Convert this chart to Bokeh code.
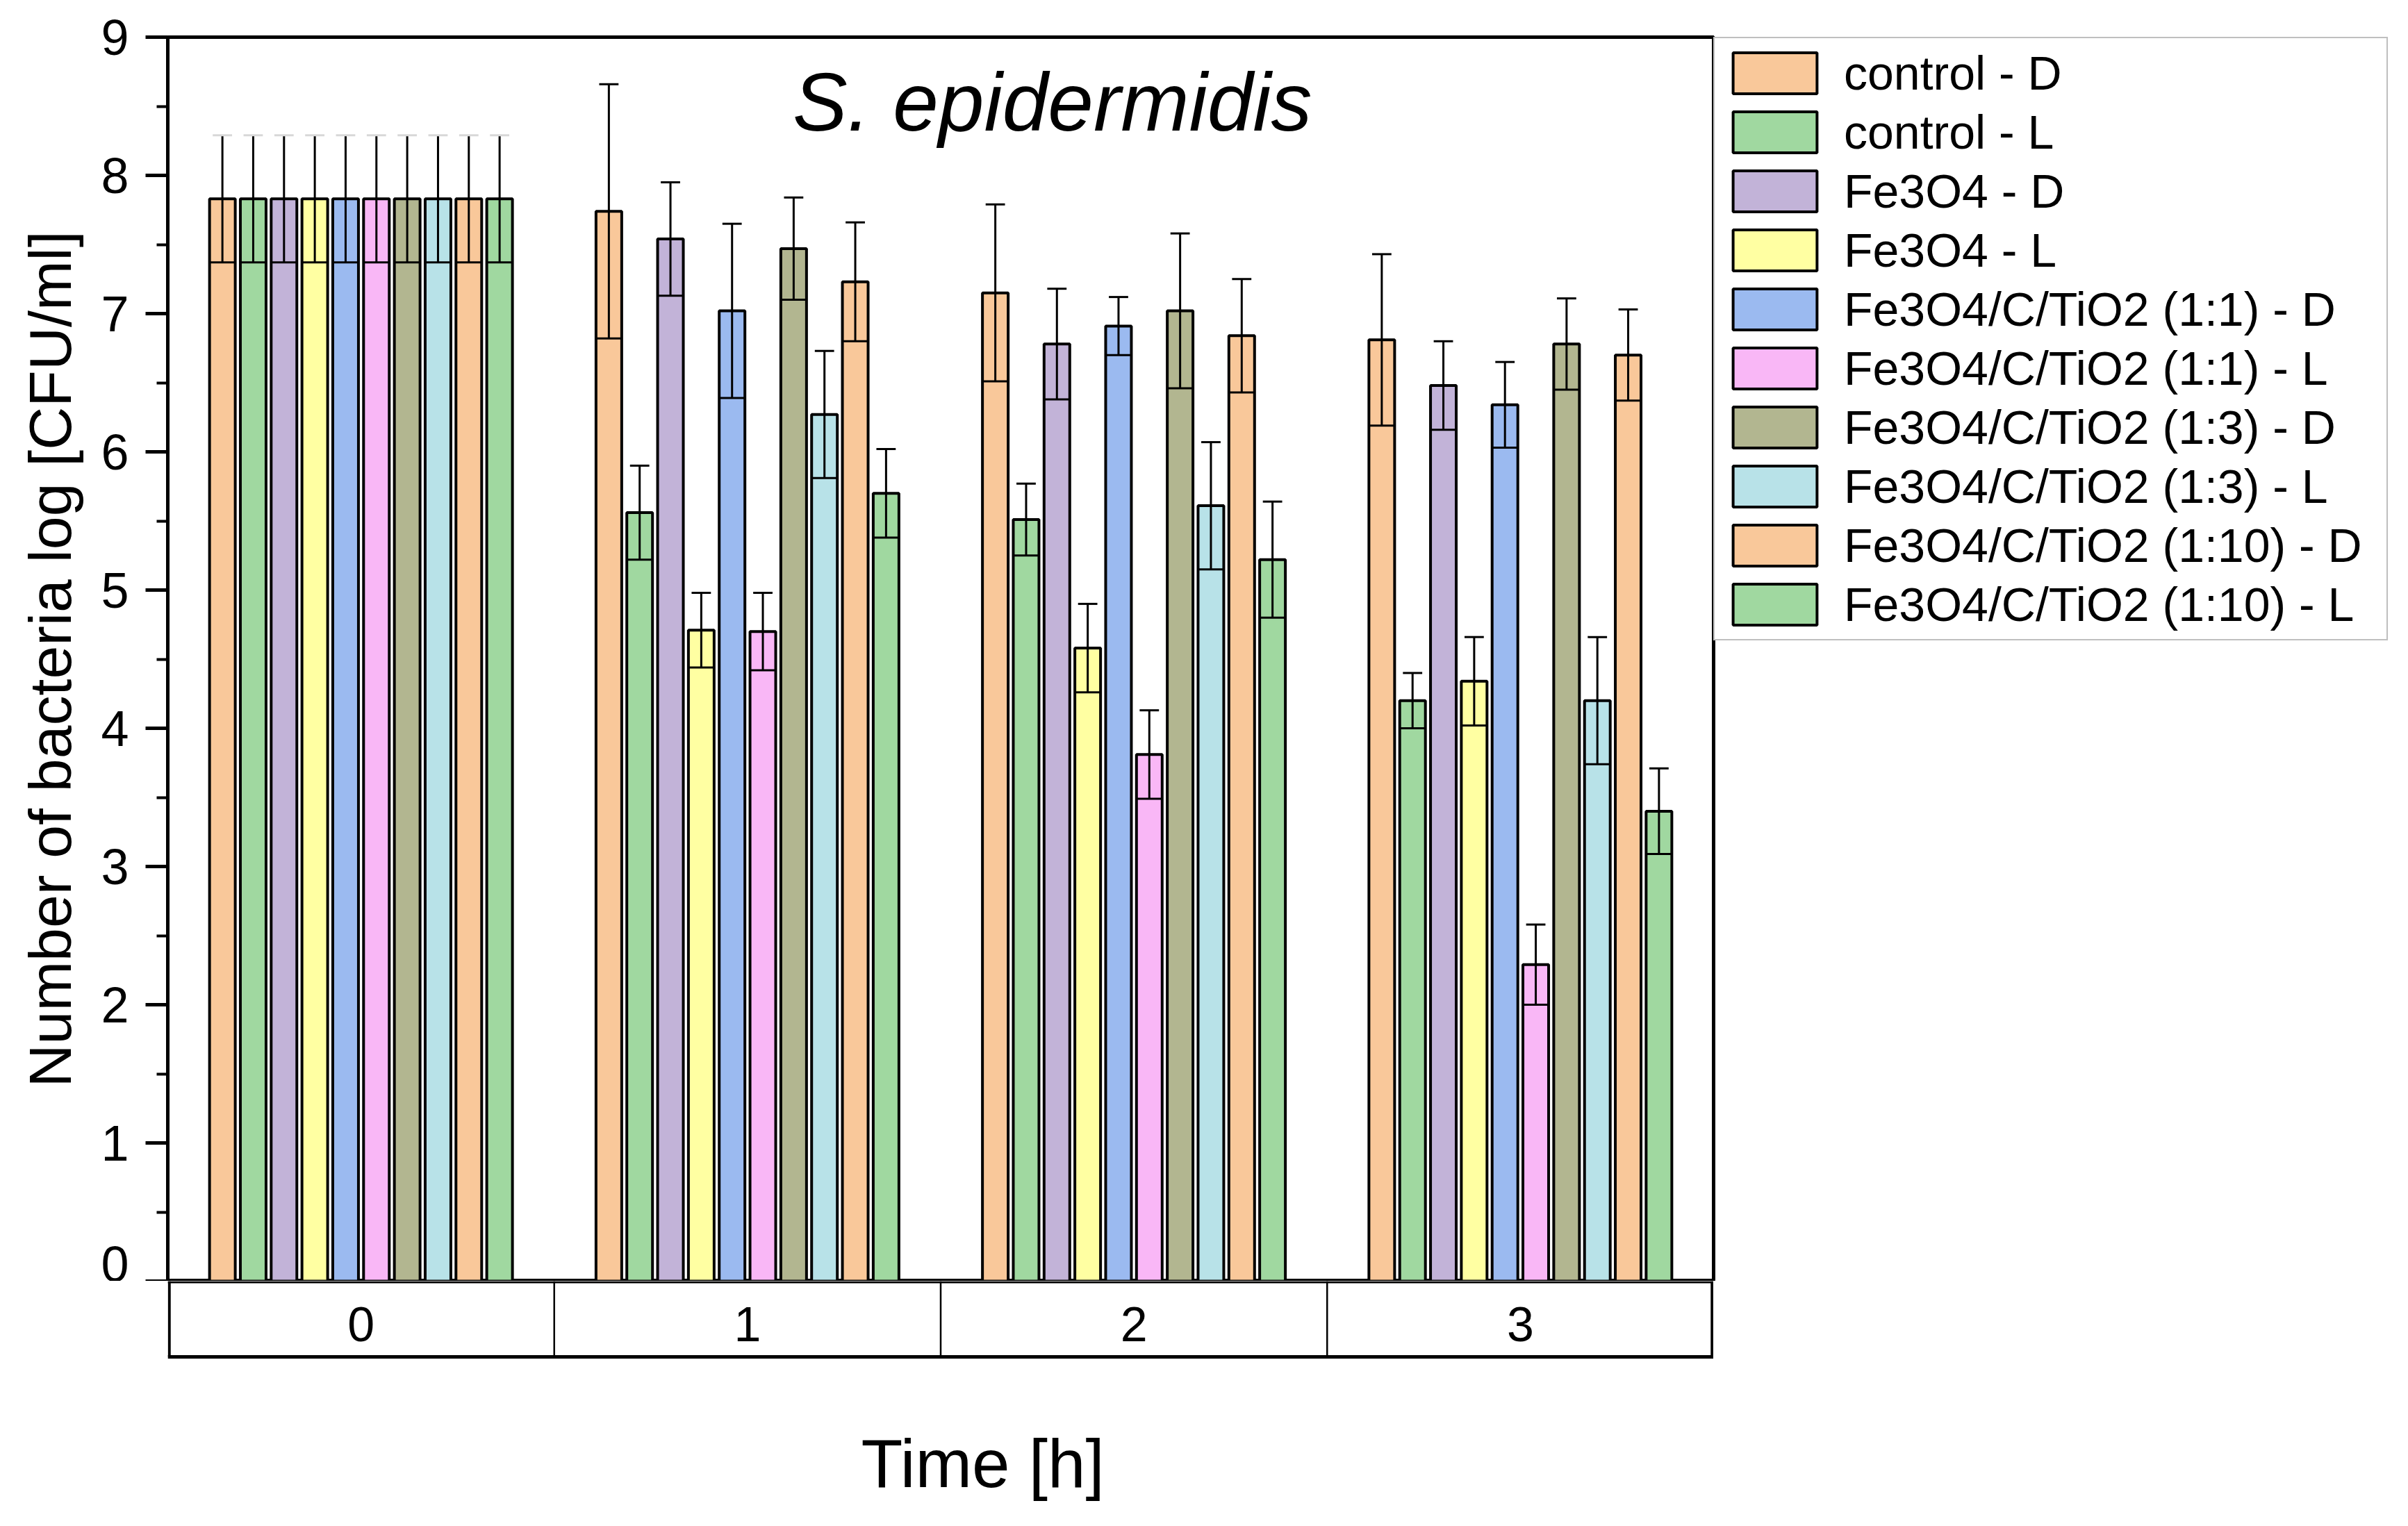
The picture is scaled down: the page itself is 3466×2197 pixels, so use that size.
from bokeh.plotting import figure
from bokeh.models import Range1d, FixedTicker, Legend, LegendItem, ColumnDataSource
from bokeh.layouts import column
from bokeh.core.properties import value
from bokeh.embed import file_html
from bokeh.resources import INLINE

FONT = "Liberation Sans"

time_labels = ["0", "1", "2", "3"]
series_names = [
    "control - D", "control - L", "Fe3O4 - D", "Fe3O4 - L",
    "Fe3O4/C/TiO2 (1:1) - D", "Fe3O4/C/TiO2 (1:1) - L",
    "Fe3O4/C/TiO2 (1:3) - D", "Fe3O4/C/TiO2 (1:3) - L",
    "Fe3O4/C/TiO2 (1:10) - D", "Fe3O4/C/TiO2 (1:10) - L",
]
series_colors = [
    "#F9C89A", "#A0D8A0", "#C2B3D8", "#FFFFA2", "#9BBAF0",
    "#F9B7F6", "#B2B690", "#B8E2E8", "#F9C89A", "#A0D8A0",
]
# log CFU/ml at t = 0, 1, 2, 3 h
control_D = [7.83, 7.74, 7.15, 6.81]
control_L = [7.83, 5.56, 5.51, 4.20]
fe3o4_D = [7.83, 7.54, 6.78, 6.48]
fe3o4_L = [7.83, 4.71, 4.58, 4.34]
fct11_D = [7.83, 7.02, 6.91, 6.34]
fct11_L = [7.83, 4.70, 3.81, 2.29]
fct13_D = [7.83, 7.47, 7.02, 6.78]
fct13_L = [7.83, 6.27, 5.61, 4.20]
fct110_D = [7.83, 7.23, 6.84, 6.70]
fct110_L = [7.83, 5.70, 5.22, 3.40]
# error (SD)
err_control_D = [0.46, 0.92, 0.64, 0.62]
err_control_L = [0.46, 0.34, 0.26, 0.20]
err_fe3o4_D = [0.46, 0.41, 0.40, 0.32]
err_fe3o4_L = [0.46, 0.27, 0.32, 0.32]
err_fct11_D = [0.46, 0.63, 0.21, 0.31]
err_fct11_L = [0.46, 0.28, 0.32, 0.29]
err_fct13_D = [0.46, 0.37, 0.56, 0.33]
err_fct13_L = [0.46, 0.46, 0.46, 0.46]
err_fct110_D = [0.46, 0.43, 0.41, 0.33]
err_fct110_L = [0.46, 0.32, 0.42, 0.31]

means = [control_D, control_L, fe3o4_D, fe3o4_L, fct11_D, fct11_L,
         fct13_D, fct13_L, fct110_D, fct110_L]
errs = [err_control_D, err_control_L, err_fe3o4_D, err_fe3o4_L, err_fct11_D,
        err_fct11_L, err_fct13_D, err_fct13_L, err_fct110_D, err_fct110_L]

PITCH = 0.0797
BAR_W = 0.0665
CAP_W = 0.05

p = figure(frame_width=2225, frame_height=1791, x_range=Range1d(-0.5, 3.5),
           y_range=Range1d(0, 9), x_axis_type=None, output_backend="svg",
           toolbar_location=None, min_border_left=241, min_border_top=53,
           min_border_bottom=0, min_border_right=0)
p.grid.visible = False
p.outline_line_color = "black"
p.outline_line_width = 5

ax = p.yaxis[0]
ax.ticker = FixedTicker(ticks=list(range(10)), minor_ticks=[i + 0.5 for i in range(9)])
ax.axis_line_width = 4
ax.major_tick_out = 32
ax.major_tick_in = 0
ax.major_tick_line_width = 5
ax.minor_tick_out = 16
ax.minor_tick_in = 0
ax.minor_tick_line_width = 4
ax.major_label_standoff = 24
ax.major_label_text_font = FONT
ax.major_label_text_font_size = "72px"
ax.major_label_text_color = "black"
ax.axis_label = "Number of bacteria log [CFU/ml]"
ax.axis_label_text_font = FONT
ax.axis_label_text_font_size = "86px"
ax.axis_label_text_font_style = "normal"
ax.axis_label_text_color = "black"
ax.axis_label_standoff = 22

items = []
for j, (name, col, m, e) in enumerate(zip(series_names, series_colors, means, errs)):
    xs = [t + (j - 4.5) * PITCH for t in range(len(time_labels))]
    src = ColumnDataSource(dict(x=xs, top=m))
    r = p.vbar(x="x", top="top", width=BAR_W, bottom=0, source=src,
               fill_color=col, line_color="black", line_width=4)
    items.append(LegendItem(label=name, renderers=[r]))
    lo = [a - b for a, b in zip(m, e)]
    hi = [a + b for a, b in zip(m, e)]
    capc = ["#d8d8d8" if t == 0 else "black" for t in range(len(time_labels))]
    esrc = ColumnDataSource(dict(
        x=xs, lo=lo, hi=hi,
        cx0=[x - CAP_W / 2 for x in xs], cx1=[x + CAP_W / 2 for x in xs],
        bx0=[x - BAR_W / 2 for x in xs], bx1=[x + BAR_W / 2 for x in xs],
        capc=capc))
    p.segment(x0="x", y0="lo", x1="x", y1="hi", source=esrc,
              line_color="black", line_width=3)
    p.segment(x0="cx0", y0="hi", x1="cx1", y1="hi", source=esrc,
              line_color="capc", line_width=3)
    p.segment(x0="bx0", y0="lo", x1="bx1", y1="lo", source=esrc,
              line_color="black", line_width=3)

p.text(x=[1.789], y=[8.53], text=["S. epidermidis"], text_align="center",
       text_baseline="alphabetic", text_font=value(FONT), text_font_style="italic",
       text_font_size="118px", text_color="black")

legend = Legend(items=items, location="top_left", margin=0, padding=11,
                spacing=7, glyph_width=151, glyph_height=74, label_height=74,
                label_standoff=24, label_width=770,
                label_text_font=FONT, label_text_font_size="68px",
                label_text_color="black", border_line_color="#808080",
                border_line_width=2, background_fill_color="white",
                background_fill_alpha=1.0)
p.add_layout(legend, "right")

# category box and x-axis title below
b = figure(frame_width=2225, frame_height=330, x_range=Range1d(-0.5, 3.5),
           y_range=Range1d(330, 0), x_axis_type=None, y_axis_type=None,
           output_backend="svg", toolbar_location=None, min_border_left=241,
           min_border_top=0, min_border_bottom=0, min_border_right=0)
b.grid.visible = False
b.outline_line_color = None
BOX_H = 109
eps = 0.004
b.segment(x0=[-0.5], y0=[1.5], x1=[3.5], y1=[1.5], line_color="black", line_width=3)
b.segment(x0=[-0.5], y0=[BOX_H], x1=[3.5], y1=[BOX_H], line_color="black", line_width=5)
b.segment(x0=[-0.5 + eps, 3.5 - eps], y0=[0, 0], x1=[-0.5 + eps, 3.5 - eps],
          y1=[BOX_H, BOX_H], line_color="black", line_width=4)
b.segment(x0=[0.5, 1.5, 2.5], y0=[0, 0, 0], x1=[0.5, 1.5, 2.5],
          y1=[BOX_H] * 3, line_color="black", line_width=2.5)
b.text(x=list(range(len(time_labels))), y=[62] * len(time_labels), text=time_labels,
       text_align="center", text_baseline="alphabetic", text_font=value(FONT),
       text_font_size="70px", text_color="black")
b.text(x=[1.609], y=[262], text=["Time [h]"], text_align="center",
       text_baseline="alphabetic", text_font=value(FONT), text_font_size="98px",
       text_color="black")

layout = column(p, b, spacing=0)
open("out.html", "w").write(file_html(layout, INLINE))
